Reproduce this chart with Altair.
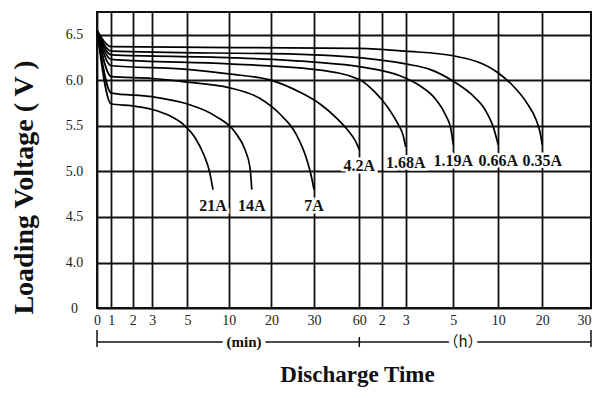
import altair as alt
import pandas as pd

# ---- data ----
series_names = ["21A", "14A", "7A", "4.2A", "1.68A", "1.19A", "0.66A", "0.35A"]

# discharge time in minutes, loading voltage in V
t_21a = [0, 1, 2, 3, 4, 4.75, 5.93, 7.0, 7.7, 8.1]
v_21a = [6.55, 5.74, 5.72, 5.68, 5.61, 5.52, 5.37, 5.18, 4.99, 4.80]

t_14a = [0, 1, 3, 5, 8.35, 11.5, 13.8, 15.0, 15.4]
v_14a = [6.55, 5.86, 5.82, 5.74, 5.61, 5.43, 5.24, 5.04, 4.80]

t_7a = [0, 1, 3, 5, 10, 17.35, 22.0, 25.8, 28.1, 29.3, 30]
v_7a = [6.55, 6.04, 6.02, 5.98, 5.92, 5.80, 5.63, 5.41, 5.16, 4.96, 4.80]

t_42a = [0, 1, 5, 10, 20, 26.7, 34, 44.6, 52.5, 57.2, 60]
v_42a = [6.55, 6.16, 6.12, 6.07, 6.00, 5.87, 5.74, 5.59, 5.45, 5.34, 5.24]

t_168a = [0, 1, 10, 30, 60, 102, 135.8, 160.8, 173.3, 180]
v_168a = [6.55, 6.23, 6.18, 6.12, 6.01, 5.87, 5.70, 5.52, 5.40, 5.27]

t_119a = [0, 1, 10, 30, 60, 165.8, 216, 256, 281.6, 294.2, 300]
v_119a = [6.55, 6.28, 6.25, 6.20, 6.15, 6.05, 5.94, 5.79, 5.61, 5.46, 5.29]

t_066a = [0, 1, 30, 60, 180, 241, 300, 418, 511, 564, 600]
v_066a = [6.55, 6.32, 6.28, 6.25, 6.18, 6.12, 5.99, 5.85, 5.68, 5.50, 5.29]

t_035a = [0, 1, 60, 180, 300, 600, 800, 991, 1114, 1169, 1200]
v_035a = [6.55, 6.37, 6.35, 6.32, 6.27, 6.08, 5.94, 5.75, 5.57, 5.43, 5.29]

all_t = [t_21a, t_14a, t_7a, t_42a, t_168a, t_119a, t_066a, t_035a]
all_v = [v_21a, v_14a, v_7a, v_42a, v_168a, v_119a, v_066a, v_035a]

x_ticks = [0, 1, 2, 3, 5, 10, 20, 30, 60, 120, 180, 300, 600, 1200, 1800]
y_ticks = [0, 4.0, 4.5, 5.0, 5.5, 6.0, 6.5]
unit_labels = ["(min)", "（h）"]

# ---- tables ----
rows = []
for name, ts, vs in zip(series_names, all_t, all_v):
    for i, (t, v) in enumerate(zip(ts, vs)):
        rows.append({"series": name, "t": t, "v": v, "order": i})
curves = pd.DataFrame(rows)

ends = pd.DataFrame({
    "series": series_names,
    "t": [ts[-1] for ts in all_t],
    "v": [vs[-1] for vs in all_v],
})

# ---- layout / scales ----
W, H = 494, 296
x_frac = [0, 0.029, 0.0723, 0.112, 0.183, 0.2666, 0.353, 0.4393, 0.531,
          0.5763, 0.6249, 0.7213, 0.8124, 0.9015, 1.0]
x_range = [round(f * W, 1) for f in x_frac]
step = 45.5  # px per 0.5 V
y_scale = alt.Scale(domain=[0, 4.0, 6.75], range=[H, H - step, 0], nice=False, zero=False)
x_scale = alt.Scale(domain=x_ticks, range=x_range, nice=False, zero=False)

SERIF = "Liberation Serif"

x_enc = alt.X("t:Q", scale=x_scale, axis=alt.Axis(
    values=x_ticks, tickCount=40, grid=True, ticks=False, domain=False, labelFlush=False,
    labelOverlap=False,
    labelExpr="datum.value <= 60 ? datum.value : datum.value / 60",
    labelAlign={"condition": {"test": "datum.value == 1800", "value": "right"}, "value": "center"},
    labelFont=SERIF, labelFontSize=14, labelColor="#222", labelPadding=5,
    title="Discharge Time", titleFont=SERIF, titleFontSize=23, titleFontWeight="bold",
    titleColor="#111", titleX=260, titleY=66, titleAlign="center", titleBaseline="middle"))

y_enc = alt.Y("v:Q", scale=y_scale, axis=alt.Axis(
    values=y_ticks, tickCount=40, grid=True, ticks=False, domain=False, labelFlush=False,
    labelOverlap=False,
    labelExpr="datum.value == 0 ? '0' : format(datum.value, '.1f')",
    labelFont=SERIF, labelFontSize=14, labelColor="#222", labelPadding=23,
    labelAlign="center", labelBaseline="middle",
    title="Loading Voltage ( V )", titleFont=SERIF, titleFontSize=28, titleFontWeight="bold",
    titleColor="#111", titleAngle=270, titleX=-73, titleY=175, titleAlign="center",
    titleBaseline="middle"))

lines = alt.Chart(curves).mark_line(color="black", strokeWidth=1.7, interpolate="monotone").encode(
    x=x_enc, y=y_enc, detail="series:N", order="order:Q")

halo = alt.Chart(ends).mark_text(font=SERIF, fontSize=16, fontWeight="bold", dy=16,
                                  fill="white", stroke="white", strokeWidth=5,
                                  baseline="middle").encode(
    x=alt.X("t:Q", scale=x_scale), y=alt.Y("v:Q", scale=y_scale), text="series:N")
labels = alt.Chart(ends).mark_text(font=SERIF, fontSize=16, fontWeight="bold", dy=16,
                                    color="#111", baseline="middle").encode(
    x=alt.X("t:Q", scale=x_scale), y=alt.Y("v:Q", scale=y_scale), text="series:N")

# bracket under the time axis
bracket_df = pd.DataFrame({"t": [x_ticks[0]], "t2": [x_ticks[-1]]})
bracket = alt.Chart(bracket_df).mark_rule(color="#111", strokeWidth=1.5).encode(
    x=alt.X("t:Q", scale=x_scale), x2="t2:Q", y=alt.value(330))
end_ticks = alt.Chart(pd.DataFrame({"t": [x_ticks[0], x_ticks[-1]]})).mark_rule(
    color="#111", strokeWidth=1.5).encode(
    x=alt.X("t:Q", scale=x_scale), y=alt.value(318), y2=alt.value(335))
mid_tick = alt.Chart(pd.DataFrame({"t": [60]})).mark_rule(
    color="#111", strokeWidth=1.5).encode(
    x=alt.X("t:Q", scale=x_scale), y=alt.value(325), y2=alt.value(335))

unit_df = pd.DataFrame({"label": unit_labels, "px": [147, 366]})
unit_halo = alt.Chart(unit_df).mark_text(font=SERIF, fontSize=15, fontWeight="bold",
                                         fill="white", stroke="white", strokeWidth=9,
                                         baseline="middle").encode(
    x=alt.X("px:Q", scale=None), y=alt.value(330), text="label:N")
unit_min = alt.Chart(unit_df.iloc[:1]).mark_text(font=SERIF, fontSize=15, fontWeight="bold",
                                                 color="#111", baseline="middle").encode(
    x=alt.X("px:Q", scale=None), y=alt.value(330), text="label:N")
unit_h = alt.Chart(unit_df.iloc[1:]).mark_text(font="Noto Sans CJK SC", fontSize=15,
                                               color="#111", baseline="middle").encode(
    x=alt.X("px:Q", scale=None), y=alt.value(330), text="label:N")

chart = alt.layer(lines, bracket, end_ticks, mid_tick, unit_halo, unit_min, unit_h,
                  halo, labels).properties(
    width=W, height=H,
    autosize=alt.AutoSizeParams(type="none"),
    padding={"left": 89, "top": 4, "right": 1, "bottom": 82},
).configure_view(stroke="#111", strokeWidth=2).configure_axis(
    gridColor="#111", gridWidth=1.8, gridOpacity=1)

chart.save("out.html", embed_options={"renderer": "svg", "actions": False})
